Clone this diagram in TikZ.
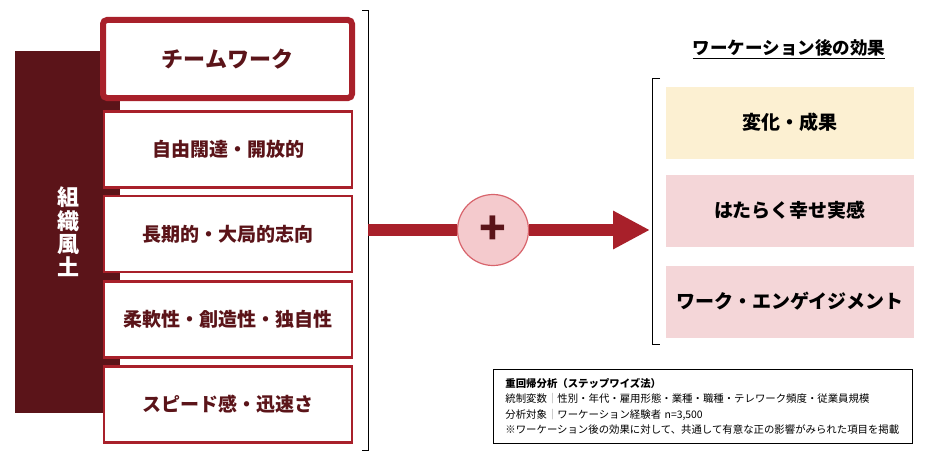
\documentclass[tikz,border=0pt]{standalone}
\usepackage{fontspec}
\setmainfont{Noto Sans CJK JP}
\usepackage{xcolor}
\usepackage{tikz}
\usetikzlibrary{arrows.meta}

\definecolor{maroon}{HTML}{5B1419}
\definecolor{boxred}{HTML}{A8202A}
\definecolor{cream}{HTML}{FCF0D2}
\definecolor{rose}{HTML}{F4D6D8}
\definecolor{pluspink}{HTML}{F4CACD}
\definecolor{plusedge}{HTML}{D8646C}

\begin{document}
\begin{tikzpicture}[x=1pt, y=-1pt, every node/.style={font=\bfseries}]
    \tikzset{factor/.style={rectangle, draw=boxred, line width=2.5pt, fill=white, minimum width=248pt, minimum height=76pt, text=maroon, font=\fontsize{19}{22}\selectfont\bfseries}}
    \tikzset{effect/.style={rectangle, minimum width=248pt, minimum height=72pt, font=\fontsize{19}{22}\selectfont\bfseries}}

    \useasboundingbox (0,0) rectangle (931,460);

    % culture bar
    \fill[maroon] (15,51) rectangle (120,413);
    \node[text=white, align=center, font=\fontsize{22}{23.3}\selectfont\bfseries] (culture) at (68,232) {組\\織\\風\\土};

    \node[factor, line width=6pt, rounded corners=4pt, minimum width=249pt, minimum height=78pt, font=\fontsize{22}{26}\selectfont\bfseries] (team) at (227.5,59) {チームワーク};
    \foreach \name/\y/\txt in {f1/149.5/自由闊達・開放的, f2/234/長期的・大局的志向, f3/319.5/柔軟性・創造性・独自性, f4/404.5/スピード感・迅速さ} {
        \node[factor] (\name) at (228,\y) {\txt};
    }

    % brackets
    \coordinate (lt) at (368,10);
    \coordinate (lb) at (368,450);
    \draw[line width=0.8pt] ([xshift=-6pt]lt) -- (lt) -- (lb) -- ([xshift=-6pt]lb);
    \coordinate (rt) at (652,78);
    \coordinate (rb) at (652,344);
    \draw[line width=0.8pt] ([xshift=8pt]rt) -- (rt) -- (rb) -- ([xshift=8pt]rb);

    % arrow with plus
    \coordinate (arrowstart) at (368,230);
    \coordinate (arrowtip) at (650,230);
    \node[circle, draw=plusedge, line width=1.2pt, fill=pluspink, minimum size=71pt, inner sep=0pt, text=maroon, font=\fontsize{44}{44}\selectfont\bfseries] (plus) at (493,230) {+};
    \draw[boxred, line width=12pt] (arrowstart) -- (plus);
    \draw[boxred, line width=12pt, -{Triangle[length=37pt, width=36pt]}] (plus) -- (arrowtip);

    % effects
    \node[font=\fontsize{17.5}{20}\selectfont\bfseries] (title) at (789,49) {\underline{ワーケーション後の効果}};
    \foreach \name/\y/\col/\txt in {e1/122.5/cream/変化・成果, e2/210.5/rose/はたらく幸せ実感, e3/301.5/rose/ワーク・エンゲイジメント} {
        \node[effect, fill=\col] (\name) at (790,\y) {\txt};
    }

    \node[draw=black, line width=0.8pt, anchor=north west, minimum width=419pt, minimum height=74pt, text width=395pt, inner xsep=12pt, align=left, font=\fontsize{10.4}{15.3}\selectfont] (note) at (493,369) {{\bfseries 重回帰分析（ステップワイズ法）}\\統制変数{\color{gray}｜}性別・年代・雇用形態・業種・職種・テレワーク頻度・従業員規模\\分析対象{\color{gray}｜}ワーケーション経験者 n=3,500\\※ワーケーション後の効果に対して、共通して有意な正の影響がみられた項目を掲載};
\end{tikzpicture}
\end{document}
